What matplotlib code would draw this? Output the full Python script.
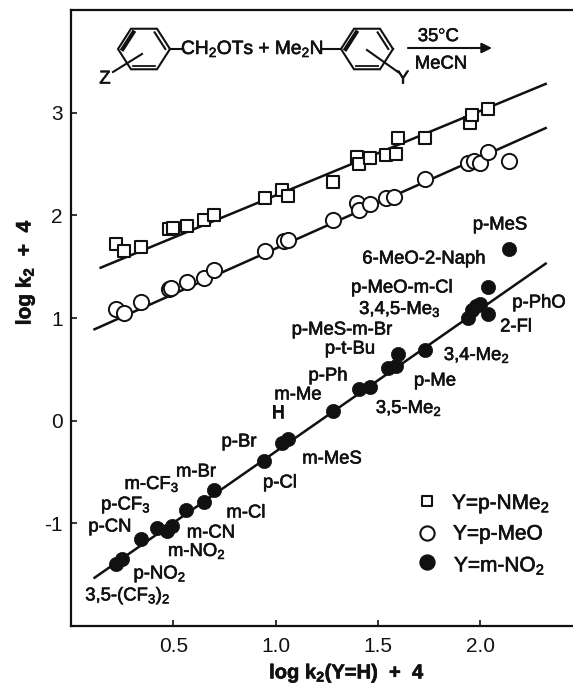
import numpy as np
import matplotlib
matplotlib.use("Agg")
import matplotlib.pyplot as plt
import matplotlib.patheffects as pe

plt.rcParams['font.family'] = ['Liberation Sans', 'DejaVu Sans']
plt.rcParams['mathtext.fontset'] = 'custom'
plt.rcParams['mathtext.rm'] = 'Liberation Sans'
plt.rcParams['mathtext.bf'] = 'Liberation Sans:bold'
plt.rcParams['mathtext.default'] = 'rm'

# log k2(Y=H) + 4 of each substrate, one list per series
sq_x = [.22, .26, .34, .48, .50, .565, .65, .70, .95, 1.03, 1.06, 1.28, 1.40, 1.41, 1.46, 1.54, 1.59, 1.60, 1.73, 1.95, 1.96, 2.04]
sq_y = [1.72, 1.65, 1.69, 1.87, 1.88, 1.90, 1.95, 2.00, 2.17, 2.25, 2.19, 2.32, 2.57, 2.50, 2.56, 2.59, 2.60, 2.75, 2.75, 2.90, 2.98, 3.04]
ci_x = [.22, .26, .34, .48, .49, .565, .65, .70, .95, 1.04, 1.06, 1.28, 1.40, 1.41, 1.46, 1.54, 1.58, 1.73, 1.94, 1.97, 2.00, 2.04, 2.14]
ci_y = [1.09, 1.05, 1.16, 1.28, 1.29, 1.35, 1.39, 1.47, 1.65, 1.75, 1.76, 1.95, 2.12, 2.05, 2.11, 2.17, 2.18, 2.35, 2.51, 2.53, 2.51, 2.62, 2.53]
fi_x = [.22, .25, .34, .42, .47, .495, .56, .65, .70, .945, 1.03, 1.06, 1.28, 1.41, 1.46, 1.55, 1.59, 1.60, 1.73, 1.94, 1.96, 1.98, 2.00, 2.04, 2.04, 2.14]
fi_y = [-1.40, -1.35, -1.15, -1.05, -1.07, -1.03, -.87, -.79, -.68, -.39, -.22, -.18, .09, .31, .33, .51, .53, .65, .69, 1.00, 1.08, 1.12, 1.14, 1.04, 1.30, 1.67]

# fitted lines, end points
sq_line_x = [.145, 2.32]
sq_line_y = [1.49, 3.28]
ci_line_x = [.115, 2.32]
ci_line_y = [.89, 2.85]
fi_line_x = [.115, 2.32]
fi_line_y = [-1.53, 1.53]

x_ticks = [.5, 1.0, 1.5, 2.0]
x_tick_labels = ["0.5", "1.0", "1.5", "2.0"]
y_ticks = [-1, 0, 1, 2, 3]
y_tick_labels = ["-1", "0", "1", "2", "3"]

sub_labels = ["p-MeS", "6-MeO-2-Naph", "p-MeO-m-Cl", "3,4,5-Me$_3$", "p-PhO", "2-Fl",
              "p-MeS-m-Br", "p-t-Bu", "3,4-Me$_2$", "p-Ph", "p-Me", "m-Me", "3,5-Me$_2$", "H",
              "p-Br", "m-MeS", "p-Cl", "m-Br", "m-CF$_3$", "p-CF$_3$", "m-Cl", "p-CN", "m-CN",
              "m-NO$_2$", "p-NO$_2$", "3,5-(CF$_3$)$_2$"]
sub_px = [(500, 225), (424, 259), (402, 288), (400, 309), (539, 303), (516, 327),
          (342, 330), (350, 349), (477, 355), (328, 376), (435, 381), (298, 395), (409, 408), (278, 413),
          (239, 442), (332, 459), (280, 483), (196, 472), (152, 484), (126, 505), (246, 513), (110, 527), (211, 533),
          (197, 551), (160, 574), (128, 596)]

fig = plt.figure(figsize=(5.73, 6.85), dpi=100)
W, H = 573, 685
ax = fig.add_axes([71 / W, 1 - 626 / H, 502 / W, 616 / H])
ax.set_xlim(0, 502 / 204.6)
ax.set_ylim(-2, 4)

ink = '#111111'
for s in ['left', 'bottom', 'top']:
    ax.spines[s].set_linewidth(1.6)
    ax.spines[s].set_color(ink)
ax.spines['right'].set_visible(False)

ax.plot(sq_line_x, sq_line_y, color=ink, lw=1.8, zorder=1)
ax.plot(ci_line_x, ci_line_y, color=ink, lw=1.8, zorder=1)
ax.plot(fi_line_x, fi_line_y, color=ink, lw=1.8, zorder=1)
ax.scatter(sq_x, sq_y, marker='s', s=72, facecolor='white', edgecolor=ink, lw=1.5, zorder=2)
ax.scatter(ci_x, ci_y, marker='o', s=120, facecolor='white', edgecolor=ink, lw=1.4, zorder=2)
ax.scatter(fi_x, fi_y, marker='o', s=105, facecolor=ink, edgecolor=ink, lw=0.5, zorder=3)

ax.set_xticks(x_ticks)
ax.set_xticklabels(x_tick_labels)
ax.set_yticks(y_ticks)
ax.set_yticklabels(y_tick_labels)
ax.tick_params(direction='in', length=4, width=1.2, labelsize=15, color=ink, labelcolor=ink)
ax.tick_params(axis='x', pad=8)
ax.tick_params(axis='y', pad=6)
ax.patch.set_alpha(0)

# everything else is placed in picture pixels
ov = fig.add_axes([0, 0, 1, 1])
ov.set_xlim(0, W)
ov.set_ylim(H, 0)
ov.axis('off')
bold = [pe.withStroke(linewidth=0.45, foreground=ink)]


def txt(x, y, s, size=13.3, **kw):
    kw.setdefault('ha', 'center')
    kw.setdefault('va', 'center')
    return ov.text(x, y, s, fontsize=size, color=ink, path_effects=bold, **kw)


for (px, py), lab in zip(sub_px, sub_labels):
    txt(px, py, lab)

txt(25, 272, r"log k$_{\mathbf{2}}$  +  4", size=15, rotation=90, weight='bold')
txt(347, 673, r"log k$_{\mathbf{2}}$(Y=H)  +  4", size=14.5, weight='bold')


# reaction scheme
def ring(cx, cy, r, thick):
    ang = np.radians(np.arange(0, 420, 60))
    xs = cx + r * np.cos(ang)
    ys = cy + 0.9 * r * np.sin(ang)
    ov.plot(xs, ys, color=ink, lw=1.5, solid_joinstyle='miter')
    for i, lw in thick:
        sx = cx + 0.82 * r * np.cos(ang[i:i + 2])
        sy = cy + 0.9 * 0.82 * r * np.sin(ang[i:i + 2])
        ov.plot(sx, sy, color=ink, lw=lw)


ring(144, 49, 26, [(1, 1.3), (3, 3), (5, 1.5)])
ring(367, 49, 26, [(1, 1.3), (3, 3), (5, 1.5)])
ov.plot([113, 142], [72, 54], color=ink, lw=1.5)
ov.plot([367, 398], [50, 72], color=ink, lw=1.5)
ov.plot([170, 181], [49, 49], color=ink, lw=1.5)
ov.plot([323, 341], [49, 49], color=ink, lw=1.5)
txt(105, 79, "Z")
txt(403, 79, "Y")
txt(181, 49, "CH$_2$OTs + Me$_2$N", size=13.8, ha='left')
ov.annotate("", xy=(492, 48), xytext=(408, 48),
            arrowprops=dict(arrowstyle='-|>', color=ink, lw=1.5, mutation_scale=15, shrinkA=0, shrinkB=0))
txt(439, 36, "35$^{\\circ}$C", size=13.3)
txt(441, 64, "MeCN", size=13.3)

# legend
leg_labels = ["Y=p-NMe$_2$", "Y=p-MeO", "Y=m-NO$_2$"]
leg_marks = [('s', 'white', 60), ('o', 'white', 105), ('o', ink, 105)]
leg_y = [501, 533, 562]
leg_text_x = [452, 453, 454]
leg_text_y = [504, 534, 566]
for yy, tx, ty, lab, (m, fc, sz) in zip(leg_y, leg_text_x, leg_text_y, leg_labels, leg_marks):
    ov.scatter([427], [yy], marker=m, s=sz, facecolor=fc, edgecolor=ink, lw=1.5)
    txt(tx, ty, lab, size=15, ha='left')

fig.savefig("out.png", dpi=100)
